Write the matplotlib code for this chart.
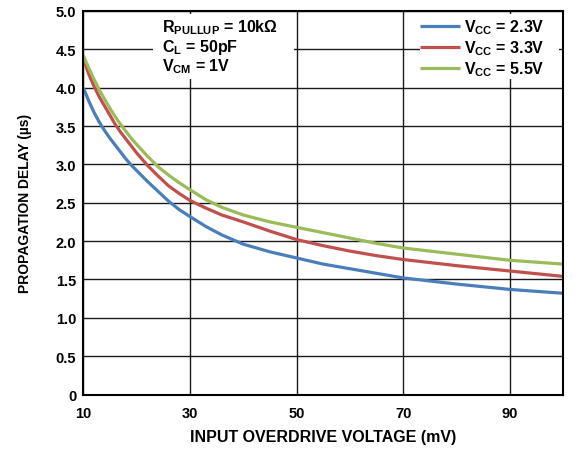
import matplotlib
matplotlib.use("Agg")
import matplotlib.pyplot as plt
from matplotlib.patches import Rectangle

plt.rcParams["font.family"] = ["Liberation Sans", "DejaVu Sans"]
plt.rcParams["font.weight"] = "bold"
plt.rcParams["mathtext.fontset"] = "custom"
plt.rcParams["mathtext.rm"] = "Liberation Sans:bold"
plt.rcParams["mathtext.bf"] = "Liberation Sans:bold"
plt.rcParams["mathtext.default"] = "bf"

# input overdrive (mV)
overdrive = [10, 11, 12, 13, 14, 15, 16, 17, 18, 19, 20, 22, 24, 26, 28, 30, 33, 36,
             40, 45, 50, 55, 60, 65, 70, 80, 90, 100]

# propagation delay (us) per supply voltage
delay_23 = [4.00, 3.83, 3.68, 3.55, 3.44, 3.34, 3.25, 3.16, 3.07, 2.99, 2.92, 2.78, 2.65,
            2.52, 2.41, 2.32, 2.19, 2.08, 1.96, 1.86, 1.78, 1.70, 1.64, 1.58, 1.52, 1.44,
            1.37, 1.32]
delay_33 = [4.38, 4.18, 4.02, 3.88, 3.76, 3.64, 3.52, 3.42, 3.33, 3.24, 3.15, 2.99, 2.85,
            2.72, 2.62, 2.53, 2.43, 2.34, 2.25, 2.13, 2.02, 1.94, 1.87, 1.81, 1.76, 1.68,
            1.61, 1.54]
delay_55 = [4.42, 4.26, 4.11, 3.97, 3.85, 3.73, 3.62, 3.52, 3.43, 3.34, 3.26, 3.11, 2.97,
            2.86, 2.76, 2.67, 2.54, 2.44, 2.34, 2.25, 2.18, 2.11, 2.04, 1.97, 1.91, 1.83,
            1.75, 1.70]

labels = ["V$_{CC}$ = 2.3V", "V$_{CC}$ = 3.3V", "V$_{CC}$ = 5.5V"]
colors = ["#4a7ebb", "#c0504d", "#9bbb59"]

x_ticks = [10, 30, 50, 70, 90]
y_ticks = [0, 0.5, 1.0, 1.5, 2.0, 2.5, 3.0, 3.5, 4.0, 4.5, 5.0]
y_tick_labels = ["0", "0.5", "1.0", "1.5", "2.0", "2.5", "3.0", "3.5", "4.0", "4.5", "5.0"]

fig = plt.figure(figsize=(5.83, 4.52), dpi=100)
ax = fig.add_axes([0.1429, 0.125, 0.8228, 0.8485])

for y, lab, c in zip([delay_23, delay_33, delay_55], labels, colors):
    ax.plot(overdrive, y, color=c, lw=2.3, label=lab, zorder=3,
            solid_capstyle="butt", solid_joinstyle="round")

ax.set_xlim(10, 100)
ax.set_ylim(0, 5)
ax.set_xticks(x_ticks)
ax.set_yticks(y_ticks)
ax.set_yticklabels(y_tick_labels)
ax.tick_params(length=0, labelsize=10.5)
ax.tick_params(axis="x", pad=8)
ax.tick_params(axis="y", pad=5)
ax.grid(True, color="#1a1a1a", lw=1.0, zorder=1)
for s in ax.spines.values():
    s.set_linewidth(1.5)
    s.set_color("black")
    s.set_zorder(5)

ax.set_xlabel("INPUT OVERDRIVE VOLTAGE (mV)", fontsize=11.5, fontweight="bold", labelpad=7)
ax.set_ylabel("PROPAGATION DELAY (µs)", fontsize=10, fontweight="bold", labelpad=17)

# white box behind the conditions text
ax.add_patch(Rectangle((0.145, 0.823), 0.295, 0.17, transform=ax.transAxes,
                       facecolor="white", edgecolor="none", zorder=2))
cond = ["R$_{PULLUP}$ = 10kΩ", "C$_{L}$ = 50pF", "V$_{CM}$ = 1V"]
for i, t in enumerate(cond):
    ax.text(0.163, 0.958 - i * 0.05, t, transform=ax.transAxes, fontsize=11.5,
            fontweight="bold", va="center", ha="left", zorder=4)

ax.add_patch(Rectangle((0.702, 0.823), 0.29, 0.17, transform=ax.transAxes,
                       facecolor="white", edgecolor="none", zorder=2))
leg = ax.legend(loc="upper right", bbox_to_anchor=(0.985, 1.012), frameon=False,
                fontsize=11.5, handlelength=2.5, handletextpad=0.25,
                labelspacing=0.15, borderaxespad=0.3)
leg.set_zorder(4)

fig.savefig("out.png", dpi=100)
